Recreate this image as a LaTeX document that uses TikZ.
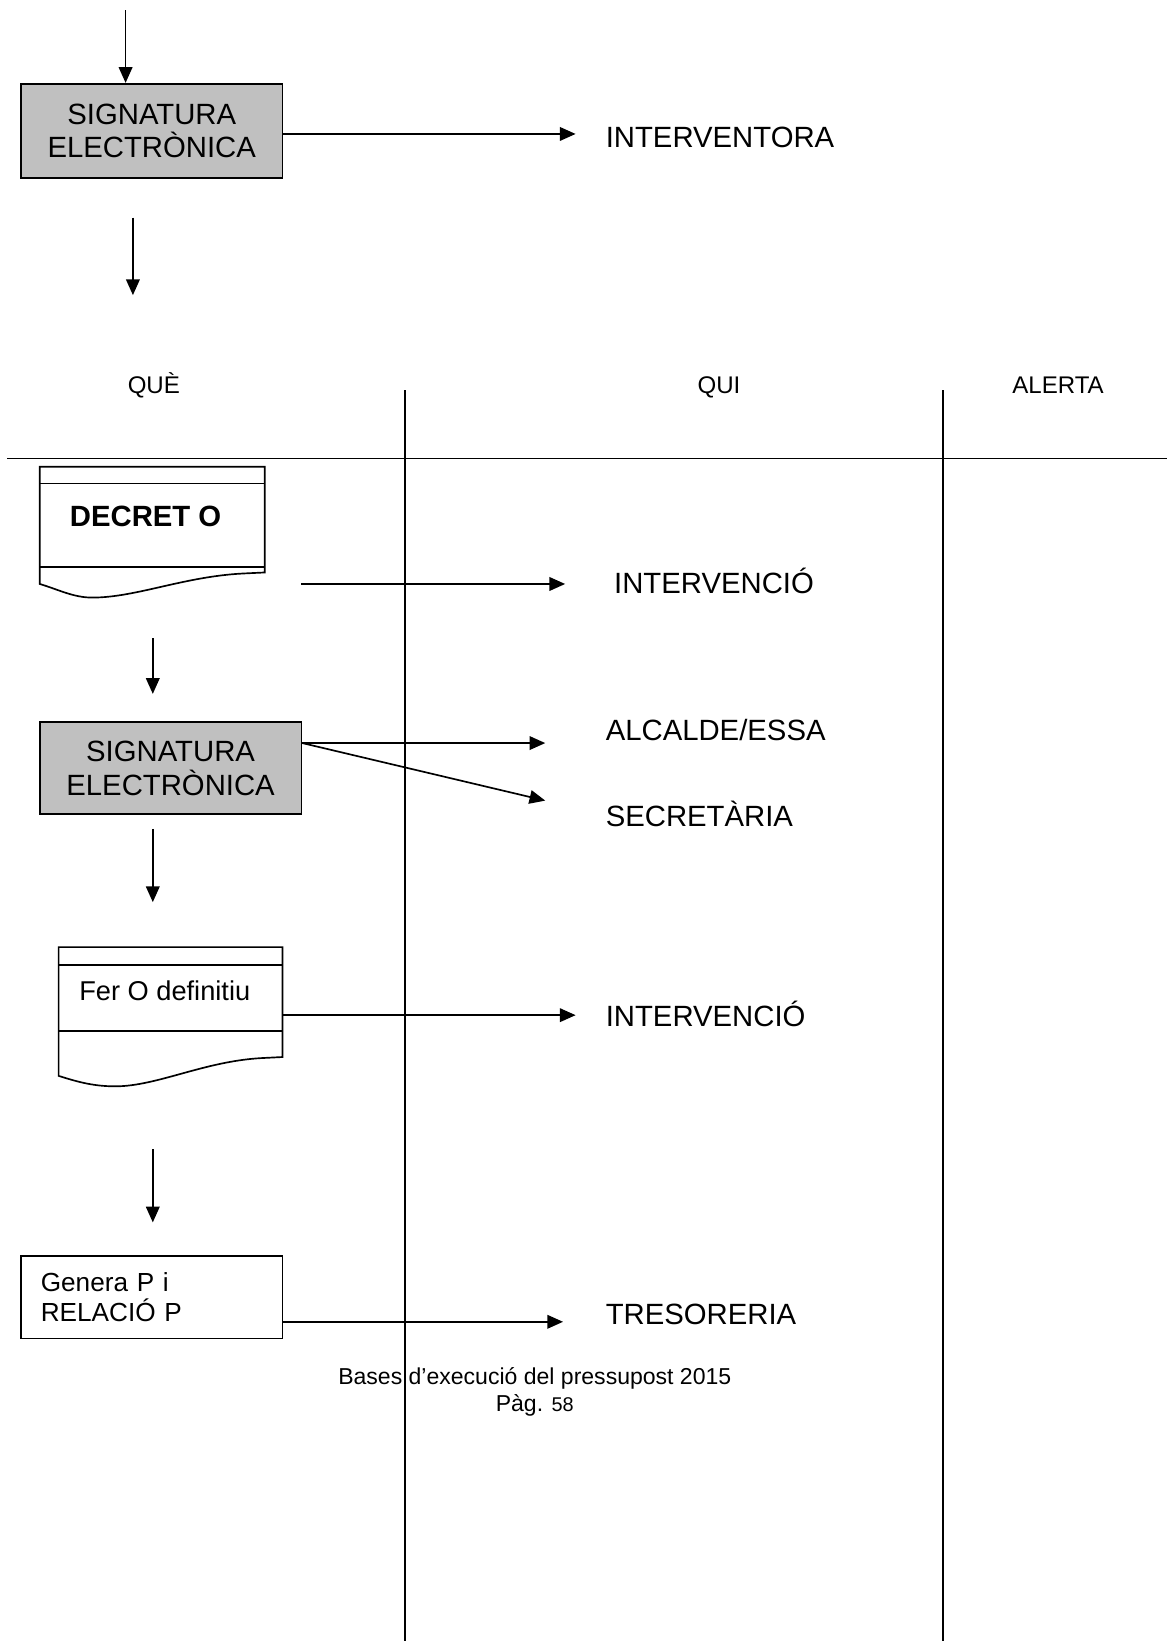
\documentclass[tikz,border=0pt]{standalone}
\usepackage{fontspec}
\setmainfont{Liberation Sans}
\usetikzlibrary{arrows.meta,positioning}
\definecolor{boxgray}{HTML}{C0C0C0}

\begin{document}
\begin{tikzpicture}[x=1pt,y=-1pt,line width=1.6pt,
    flow/.style={-{Triangle[length=15pt,width=13pt]}},
    firmabox/.style={draw,fill=boxgray,minimum width=250pt,align=center,
        font=\fontsize{28}{32}\selectfont,inner sep=0pt},
    lbl/.style={anchor=west,font=\fontsize{28}{32}\selectfont,inner sep=0pt,
        text height=20pt,text depth=0pt},
    hdr/.style={font=\fontsize{23}{27}\selectfont,inner sep=0pt,
        text height=16.5pt,text depth=0pt}]
    \useasboundingbox (0,0) rectangle (1115,1568);

    % First signature block
    \coordinate (in0) at (120,10);
    \node[firmabox,minimum height=90pt] (sig1) at (145,125) {SIGNATURA\\ELECTRÒNICA};
    \draw[flow] (in0) -- (sig1.north -| in0);
    \node[lbl] (lblInterventora) at (578,131) {INTERVENTORA};
    \coordinate (e1) at (550,128);
    \draw[flow] (sig1.east |- e1) -- (e1);
    \coordinate (d1a) at (127,208);
    \coordinate (d1b) at (127,282);
    \draw[flow] (d1a) -- (d1b);

    % Swimlane header
    \node[hdr] (hdrQue) at (147,368) {QUÈ};
    \node[hdr] (hdrQui) at (687,368) {QUI};
    \node[hdr] (hdrAlerta) at (1011,368) {ALERTA};
    \draw (7,438) -- (1115,438);
    \draw (387,373) -- (387,1568);
    \draw (901,373) -- (901,1568);

    % Document: DECRET O
    \draw (38,446) -- (253,446) -- (253,547) -- (232,548)
        .. controls (175,551) and (130,571) .. (88,571)
        .. controls (70,571) and (55,563) .. (38,558) -- cycle;
    \draw (38,462) -- (253,462);
    \draw (38,542) -- (253,542);
    \node[anchor=west,inner sep=0pt,font=\bfseries\fontsize{28}{32}\selectfont,
        text height=20pt,text depth=0pt] (decret) at (66,493) {DECRET O};
    \coordinate (s2) at (288,558);
    \coordinate (e2) at (540,558);
    \draw[flow] (s2) -- (e2);
    \node[lbl] (lblIntervencioA) at (586,557) {INTERVENCIÓ};
    \coordinate (d2a) at (146,610);
    \coordinate (d2b) at (146,663);
    \draw[flow] (d2a) -- (d2b);

    % Second signature block
    \node[firmabox,minimum height=88pt] (sig2) at (163,734) {SIGNATURA\\ELECTRÒNICA};
    \coordinate (a3) at (521,710);
    \coordinate (b3) at (521,765);
    \draw[flow] (sig2.east |- a3) -- (a3);
    \draw[flow] (sig2.east |- a3) -- (b3);
    \node[lbl] (lblAlcalde) at (578,698) {ALCALDE/ESSA};
    \node[lbl] (lblSecretaria) at (578,780) {SECRETÀRIA};
    \coordinate (d3a) at (146,792);
    \coordinate (d3b) at (146,862);
    \draw[flow] (d3a) -- (d3b);

    % Document: Fer O definitiu
    \draw (56,905) -- (270,905) -- (270,1010) -- (250,1011)
        .. controls (195,1014) and (150,1038) .. (110,1038)
        .. controls (88,1038) and (72,1033) .. (56,1028) -- cycle;
    \draw (56,922) -- (270,922);
    \draw (56,985) -- (270,985);
    \node[anchor=west,inner sep=0pt,font=\fontsize{26}{30}\selectfont,
        text height=18.6pt,text depth=0pt] (ferO) at (75,947) {Fer O definitiu};
    \coordinate (e4) at (550,970);
    \draw[flow] (270,970) -- (e4);
    \node[lbl] (lblIntervencioB) at (578,971) {INTERVENCIÓ};
    \coordinate (d4a) at (146,1098);
    \coordinate (d4b) at (146,1168);
    \draw[flow] (d4a) -- (d4b);

    % Payment block
    \node[draw,minimum width=250pt,minimum height=79pt,inner xsep=19pt,
        text width=212pt,align=left,font=\fontsize{25}{29}\selectfont]
        (genera) at (145,1239.5) {Genera P i\\RELACIÓ P};
    \coordinate (e5) at (538,1263);
    \draw[flow] (genera.east |- e5) -- (e5);
    \node[lbl] (lblTresoreria) at (578,1256) {TRESORERIA};

    % Footer
    \node[inner sep=0pt,font=\fontsize{22}{26}\selectfont] (footer) at (511,1317)
        {Bases d’execució del pressupost 2015};
    \node[inner sep=0pt,font=\fontsize{22}{26}\selectfont] (pag) at (511,1343)
        {Pàg. {\fontsize{19}{23}\selectfont 58}};
\end{tikzpicture}
\end{document}
